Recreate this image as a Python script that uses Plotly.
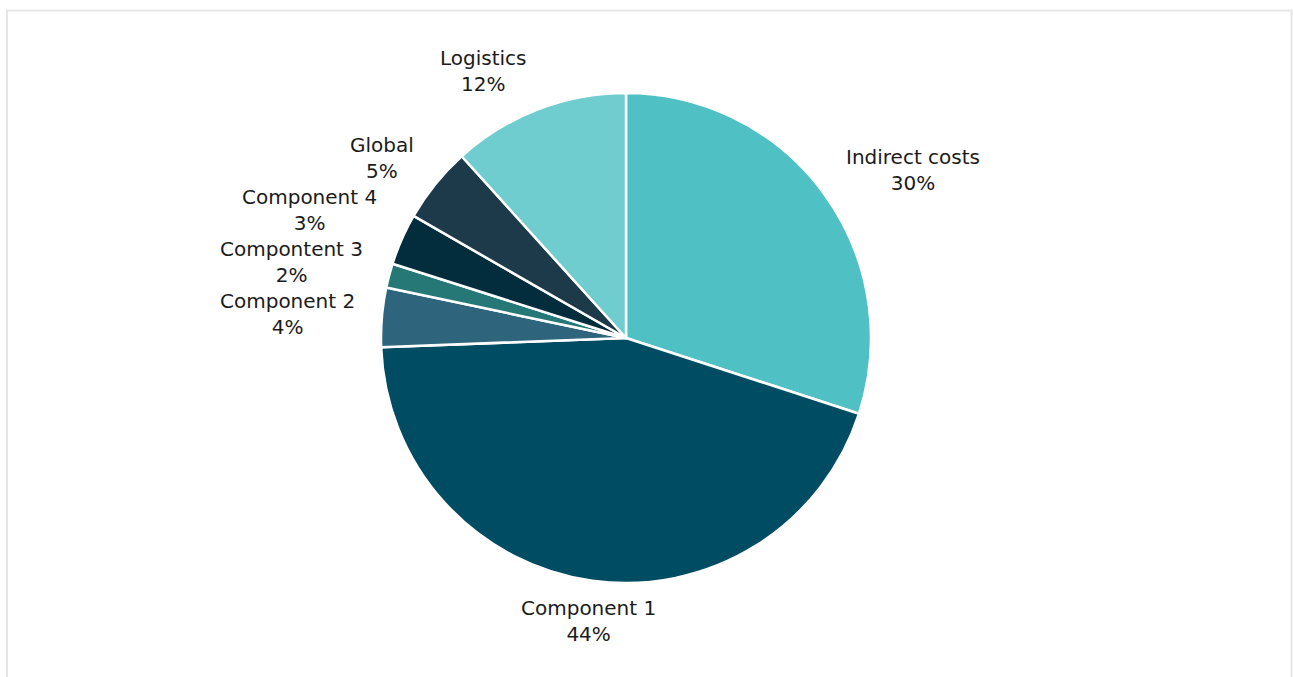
import math
import plotly.graph_objects as go

# Cost breakdown shares (percent of total)
categories = ["Indirect costs", "Component 1", "Component 2", "Compontent 3",
              "Component 4", "Global", "Logistics"]
shares = [30.0, 44.4, 3.9, 1.6, 3.4, 5.0, 11.7]
slice_colors = ["#4fc1c5", "#004c63", "#2e657c", "#267876",
                "#032d3c", "#1d3a4a", "#6fcdd0"]

W, H = 1293, 677
CX, CY, R = 626, 338, 245          # pie centre and radius in pixels
LABEL_DX = 270                      # horizontal reach of label anchors
LABEL_DY = 286                      # vertical reach of label centres
MIN_SEP = 52                        # minimum vertical spacing of stacked labels
FONT = dict(family="DejaVu Sans, Verdana, sans-serif", size=20, color="#1b1b1b")

fig = go.Figure(go.Pie(
    labels=categories,
    values=shares,
    sort=False,
    direction="clockwise",
    rotation=0,
    marker=dict(colors=slice_colors, line=dict(color="white", width=2.5)),
    textinfo="none",
    hoverinfo="label+percent",
    showlegend=False,
    domain=dict(x=[(CX - R) / W, (CX + R) / W],
                y=[1 - (CY + R) / H, 1 - (CY - R) / H]),
))

# Outside labels: name and rounded percentage, placed along each slice's mid-angle
total = sum(shares)
cum = 0.0
labels = []
for name, v in zip(categories, shares):
    mid = (cum + v / 2) / total * 2 * math.pi
    cum += v
    sx, cy = math.sin(mid), math.cos(mid)
    if sx > 0.3:
        xanchor = "left"
    elif sx < -0.3:
        xanchor = "right"
    else:
        xanchor = "center"
    pct = f"{round(v / total * 100)}%"
    labels.append(dict(text=f"{name}<br>{pct}", xanchor=xanchor,
                       xshift=LABEL_DX * sx, yshift=LABEL_DY * cy))

# Push labels on the same side apart so stacked labels do not collide
for side in ("left", "right", "center"):
    group = sorted((lb for lb in labels if lb["xanchor"] == side),
                   key=lambda lb: lb["yshift"])
    for lower, upper in zip(group, group[1:]):
        if upper["yshift"] - lower["yshift"] < MIN_SEP:
            upper["yshift"] = lower["yshift"] + MIN_SEP

annotations = [dict(
    x=CX / W, y=1 - CY / H, xref="paper", yref="paper",
    xshift=lb["xshift"], yshift=lb["yshift"],
    text=lb["text"], showarrow=False, font=FONT,
    xanchor=lb["xanchor"], yanchor="middle", align="center",
) for lb in labels]

fig.update_layout(
    width=W, height=H,
    margin=dict(l=0, r=0, t=0, b=0),
    paper_bgcolor="white",
    plot_bgcolor="white",
    annotations=annotations,
    shapes=[dict(type="rect", xref="paper", yref="paper",
                 x0=7 / W, x1=1291.5 / W, y0=-0.05, y1=1 - 10.5 / H,
                 line=dict(color="#e6e6e6", width=2), fillcolor="rgba(0,0,0,0)",
                 layer="below")],
)

fig.write_html("out.html")
